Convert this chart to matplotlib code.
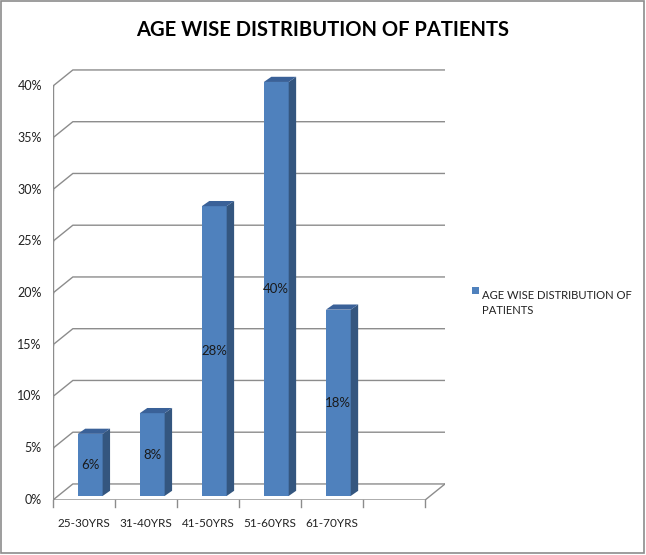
import matplotlib
matplotlib.use("Agg")
import matplotlib.pyplot as plt
from matplotlib.patches import Polygon, Rectangle

categories = ["25-30YRS", "31-40YRS", "41-50YRS", "51-60YRS", "61-70YRS"]
values = [6, 8, 28, 40, 18]
yticks = [0, 5, 10, 15, 20, 25, 30, 35, 40]
title = "AGE WISE DISTRIBUTION OF PATIENTS"
series_name = "AGE WISE DISTRIBUTION OF\nPATIENTS"

n_slots = 6          # one empty slot at the end, like the original
DX, DY = 0.32, 1.55  # depth of the back wall (category units, percent)
BAR_X0, BAR_W = 0.40, 0.40
BAR_B = 0.39
BDX, BDY = 0.12, 0.50

FRONT = "#4F81BD"
SIDE = "#34567F"
TOP = "#3A6198"
GRID = "#8C8C8C"

plt.rcParams["font.family"] = ["Lato", "DejaVu Sans"]

fig = plt.figure(figsize=(6.46, 5.55), dpi=100)
ax = fig.add_axes([53 / 646, 55 / 555, 392 / 646, 432 / 555])
ax.set_xlim(0, n_slots + DX)
ax.set_ylim(0, 432 / 10.35)
ax.axis("off")

# back wall gridlines with the diagonal on the side wall
for v in yticks:
    ax.plot([0, DX, n_slots + DX], [v, v + DY, v + DY], color=GRID, lw=1, zorder=1)
    ax.plot([-0.06, 0], [v, v], color=GRID, lw=1, zorder=1)
    ax.text(-0.18, v, f"{v}%", ha="right", va="center", fontsize=9, color="#222222")

# front axes
ax.plot([0, 0], [0, 40], color=GRID, lw=1, zorder=1)
ax.plot([0, n_slots, n_slots + DX], [0, 0, DY], color=GRID, lw=1, zorder=1)
for i in range(n_slots + 1):
    ax.plot([i, i], [0, -0.7], color=GRID, lw=1, clip_on=False, zorder=1)
for i, c in enumerate(categories):
    ax.text(i + 0.5, -2.3, c, ha="center", va="center", fontsize=8.5, color="#222222")

# 3d-ish bars
for i, v in enumerate(values):
    x0 = i + BAR_X0
    x1 = x0 + BAR_W
    ax.bar(x0, v, BAR_W, bottom=BAR_B, align="edge", color=FRONT, zorder=3)
    side = [(x1, BAR_B), (x1 + BDX, BAR_B + BDY), (x1 + BDX, BAR_B + v + BDY), (x1, BAR_B + v)]
    top = [(x0, BAR_B + v), (x0 + BDX, BAR_B + v + BDY), (x1 + BDX, BAR_B + v + BDY), (x1, BAR_B + v)]
    ax.add_patch(Polygon(side, closed=True, facecolor=SIDE, edgecolor="none", zorder=3))
    ax.add_patch(Polygon(top, closed=True, facecolor=TOP, edgecolor="none", zorder=3))
    ax.text(x0 + BAR_W / 2, BAR_B + v / 2, f"{v}%", ha="center", va="center",
            fontsize=9.5, color="#1a1a1a", zorder=4)

# legend
lax = fig.add_axes([0, 0, 1, 1], facecolor="none")
lax.set_xlim(0, 646)
lax.set_ylim(555, 0)
lax.axis("off")
lax.add_patch(Rectangle((472, 287), 7, 7, facecolor=FRONT, edgecolor="none"))
lax.text(482, 290, series_name, ha="left", va="top", fontsize=8.1, color="#222222",
         linespacing=1.5, transform=lax.transData)
lax.text(323, 30, title, ha="center", va="center", fontsize=14.5, fontweight="bold")
lax.add_patch(Rectangle((1, 1), 643, 552, facecolor="none", edgecolor="#8C8C8C", lw=1.2))

fig.savefig("out.png", dpi=100)
